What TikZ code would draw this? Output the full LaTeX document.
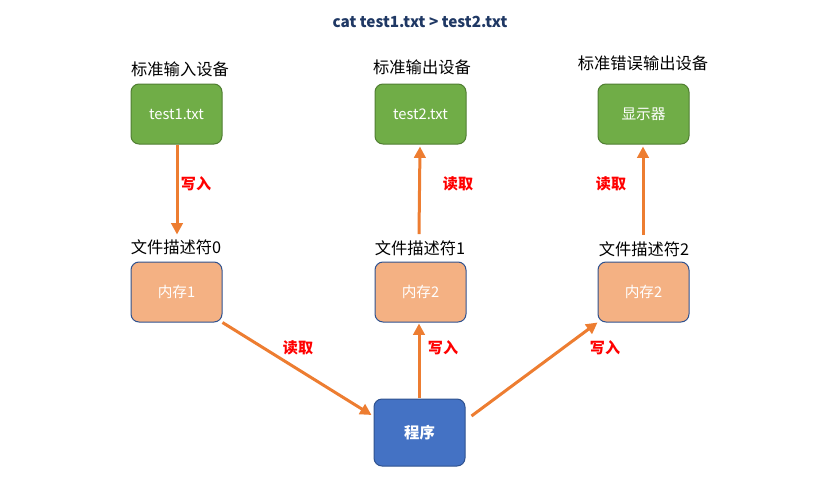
\documentclass[tikz,border=0pt]{standalone}
\usepackage{fontspec}
\setmainfont{Noto Sans CJK SC}
\usetikzlibrary{arrows.meta,calc}
\definecolor{gfill}{HTML}{70AD47}
\definecolor{gdraw}{HTML}{507E32}
\definecolor{ofill}{HTML}{F4B183}
\definecolor{bdraw}{HTML}{2F528F}
\definecolor{bfill}{HTML}{4472C4}
\definecolor{arr}{HTML}{ED7D31}
\definecolor{titlec}{HTML}{1F3864}
\tikzset{
  box/.style={draw, line width=0.75pt, rounded corners=6pt, minimum width=68.25pt, minimum height=45pt, inner sep=0pt, text=white, font=\fontsize{11}{13}\selectfont},
  gbox/.style={box, fill=gfill, draw=gdraw},
  obox/.style={box, fill=ofill, draw=bdraw},
  pbox/.style={box, fill=bfill, draw=bdraw, minimum height=50.25pt, font=\fontsize{11.5}{13}\selectfont\bfseries},
  lbl/.style={font=\fontsize{12.2}{14}\selectfont, text=black, inner sep=0pt},
  alab/.style={font=\fontsize{11.3}{13}\selectfont\bfseries, text=red, inner sep=0pt},
  arrow/.style={draw=arr, line width=2.25pt, -{Triangle[length=8.5pt,width=8.5pt]}, fill=arr},
}
\begin{document}
\begin{tikzpicture}[x=0.75pt,y=-0.75pt]
\useasboundingbox (0,0) rectangle (826,486);
\node[font=\fontsize{11.5}{13}\selectfont\bfseries, text=titlec] (title) at (420,22) {cat test1.txt > test2.txt};
% devices
\node[gbox] (t1) at (176.5,114) {test1.txt};
\node[gbox] (t2) at (420.5,114) {test2.txt};
\node[gbox] (disp) at (643.5,114) {显示器};
\node[lbl] (l1) at (180,69) {标准输入设备};
\node[lbl] (l2) at (422,67) {标准输出设备};
\node[lbl] (l3) at (643,63) {标准错误输出设备};
% memory
\node[obox] (m1) at (176.5,292) {内存1};
\node[obox] (m2) at (420.5,292) {内存2};
\node[obox] (m3) at (643.5,292) {内存2};
\node[lbl] (f0) at (176,247) {文件描述符0};
\node[lbl] (f1) at (420,248) {文件描述符1};
\node[lbl] (f2) at (644,249) {文件描述符2};
% program
\node[pbox] (p) at (419.5,432.5) {程序};
% arrows
\draw[arrow] ($(t1.south)+(0.5,0)$) -- ($(t1.south)+(0.5,90)$);
\draw[arrow] ($(f1.north)+(-1,-6)$) -- ($(t2.south)+(-0.5,2)$);
\draw[arrow] ($(f2.north)+(-1,-6)$) -- ($(disp.south)+(-0.5,2)$);
\draw[arrow] (m1.south east) -- ($(p.west)+(-2,-17.5)$);
\draw[arrow] ($(p.north)+(-0.5,-1)$) -- ($(m2.south)+(-1.5,1)$);
\draw[arrow] ($(p.east)+(6,-16.5)$) -- (m3.south west);
% arrow labels
\node[alab] (a1) at (196,184) {写入};
\node[alab] (a2) at (458,184) {读取};
\node[alab] (a3) at (611,184) {读取};
\node[alab] (a4) at (298,348) {读取};
\node[alab] (a5) at (443,348) {写入};
\node[alab] (a6) at (605,348) {写入};
\end{tikzpicture}
\end{document}
